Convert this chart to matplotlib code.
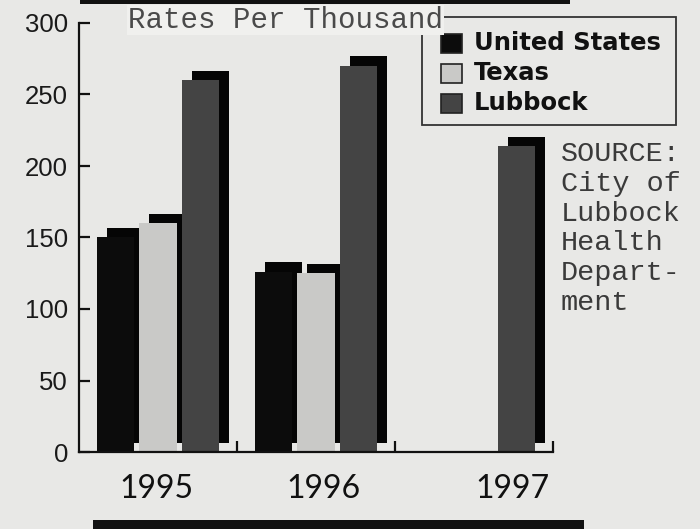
import numpy as np
import matplotlib
matplotlib.use("Agg")
import matplotlib.pyplot as plt
from matplotlib.patches import Rectangle

# ---- data ----
years = ["1995", "1996", "1997"]
series_names = ["United States", "Texas", "Lubbock"]
us_rates = [150, 126, np.nan]
texas_rates = [160, 125, np.nan]
lubbock_rates = [260, 270, 214]
y_ticks = [0, 50, 100, 150, 200, 250, 300]
title_text = "Rates Per Thousand"
source_text = "SOURCE:\nCity of\nLubbock\nHealth\nDepart-\nment"

# ---- style ----
W, H = 700, 529
bg = "#e8e8e6"
face_colors = ["#0c0c0c", "#c9c9c7", "#444444"]
shadow_color = "#050505"

fig = plt.figure(figsize=(W / 100, H / 100), dpi=100, facecolor=bg)

def fx(x):
    return x / W

def fy(y):
    return 1 - y / H

ax_left, ax_right, ax_top, ax_bottom = 79, 553, 23, 452
ax = fig.add_axes([fx(ax_left), fy(ax_bottom), fx(ax_right - ax_left), (ax_bottom - ax_top) / H])
ax.set_facecolor("none")
ax.set_xlim(0, 3)
ax.set_ylim(0, 300)

n = len(years)
centers = np.arange(n) + 0.5
spacing = 0.269
width = 0.237
dx = 0.063
dy = 6.6
all_series = [us_rates, texas_rates, lubbock_rates]
offsets = [-spacing, 0, spacing]

# shadows first
for vals, off in zip(all_series, offsets):
    v = np.array(vals, dtype=float)
    ax.bar(centers + off + dx, v, width=width, bottom=dy, color=shadow_color,
           linewidth=0, zorder=2)
# faces
for vals, off, c in zip(all_series, offsets, face_colors):
    v = np.array(vals, dtype=float)
    ax.bar(centers + off, v, width=width, color=c, linewidth=0, zorder=3)

# spines
for s in ["top", "right"]:
    ax.spines[s].set_visible(False)
for s in ["left", "bottom"]:
    ax.spines[s].set_linewidth(1.6)
    ax.spines[s].set_color("#111111")
    ax.spines[s].set_zorder(4)

ax.set_yticks(y_ticks)
ax.set_yticklabels([str(t) for t in y_ticks], fontsize=18.5, family="Liberation Sans", color="#1a1a1a")
ax.tick_params(axis="y", direction="in", length=8, width=1.6, pad=8, color="#111111")

label_pos = [0.487, 1.544, 2.741]
ax.set_xticks(label_pos)
ax.set_xticklabels(years, fontsize=23, family="Lato", color="#111111")
ax.tick_params(axis="x", which="major", length=0, pad=16)
ax.set_xticks([1, 2, 3], minor=True)
ax.tick_params(axis="x", which="minor", direction="in", length=8, width=1.6, color="#111111")

# title
fig.text(fx(128), fy(20), title_text, fontsize=21, family="Liberation Mono",
         color="#4a4a4a", ha="left", va="center", zorder=10,
         bbox=dict(facecolor="#f0f0ee", edgecolor="none", pad=1))

# legend (manual)
fig.add_artist(Rectangle((fx(422), fy(125)), fx(676 - 422), (125 - 17) / H,
                         transform=fig.transFigure, facecolor="none",
                         edgecolor="#333333", linewidth=1.3, zorder=5))
row_y = [43, 73, 103]
for name, c, yy in zip(series_names, face_colors, row_y):
    fig.add_artist(Rectangle((fx(441), fy(yy + 9.5)), fx(21), 19 / H,
                             transform=fig.transFigure, facecolor=c,
                             edgecolor="#222222", linewidth=1.2, zorder=6))
    fig.text(fx(474), fy(yy), name, fontsize=17.5, family="DejaVu Sans", weight="bold",
             color="#111111", ha="left", va="center", zorder=6)

# source
fig.text(fx(561), fy(141), source_text, fontsize=20.5, family="Liberation Mono",
         color="#3a3a3a", ha="left", va="top", linespacing=1.19)

# decorative black rules
fig.add_artist(Rectangle((fx(80), fy(4)), fx(490), 4 / H, transform=fig.transFigure,
                         facecolor="#111111", edgecolor="none"))
fig.add_artist(Rectangle((fx(93), 0), fx(491), 9 / H, transform=fig.transFigure,
                         facecolor="#111111", edgecolor="none"))

fig.savefig("out.png", dpi=100, facecolor=bg)
